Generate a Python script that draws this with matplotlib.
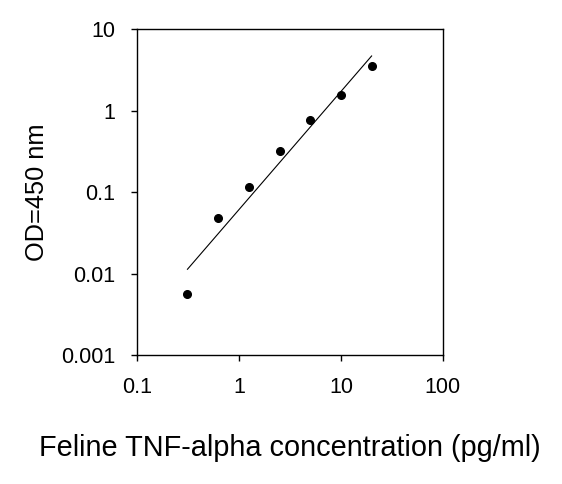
import numpy as np
import matplotlib
matplotlib.use('Agg')
from matplotlib import pyplot as plt
from matplotlib.ticker import FixedLocator, FixedFormatter, NullLocator

plt.rcParams['font.family'] = ['Liberation Sans', 'DejaVu Sans']

# standard concentrations (pg/ml) and measured OD
conc = [0.3125, 0.625, 1.25, 2.5, 5, 10, 20]
od = [0.0056, 0.048, 0.116, 0.323, 0.77, 1.58, 3.5]

# fitted curve end points
fit_x = [0.3125, 20]
fit_y = [0.0113, 4.7]

xticks = [0.1, 1, 10, 100]
xlabels = ['0.1', '1', '10', '100']
yticks = [0.001, 0.01, 0.1, 1, 10]
ylabels = ['0.001', '0.01', '0.1', '1', '10']

fig = plt.figure(figsize=(5.62, 4.84), dpi=100)
ax = fig.add_axes([0.2438, 0.2665, 0.788 - 0.2438, 0.9395 - 0.2665])

ax.plot(fit_x, fit_y, color='black', lw=0.8)
ax.plot(conc, od, 'o', color='black', ms=5.5)

ax.set_xscale('log')
ax.set_yscale('log')
ax.set_xlim(0.1, 100)
ax.set_ylim(0.001, 10)

ax.xaxis.set_major_locator(FixedLocator(xticks))
ax.xaxis.set_major_formatter(FixedFormatter(xlabels))
ax.yaxis.set_major_locator(FixedLocator(yticks))
ax.yaxis.set_major_formatter(FixedFormatter(ylabels))
ax.xaxis.set_minor_locator(NullLocator())
ax.yaxis.set_minor_locator(NullLocator())

ax.tick_params(direction='out', length=4, width=1, labelsize=15.5)
ax.tick_params(axis='x', pad=12)
ax.tick_params(axis='y', pad=11.5)
for s in ax.spines.values():
    s.set_linewidth(1)

ax.set_xlabel('Feline TNF-alpha concentration (pg/ml)', fontsize=20.8)
ax.set_ylabel('OD=450 nm', fontsize=18.3)
ax.xaxis.set_label_coords(0.5, -0.242)
ax.yaxis.set_label_coords(-0.289, 0.5)

plt.savefig('out.png', dpi=100)
